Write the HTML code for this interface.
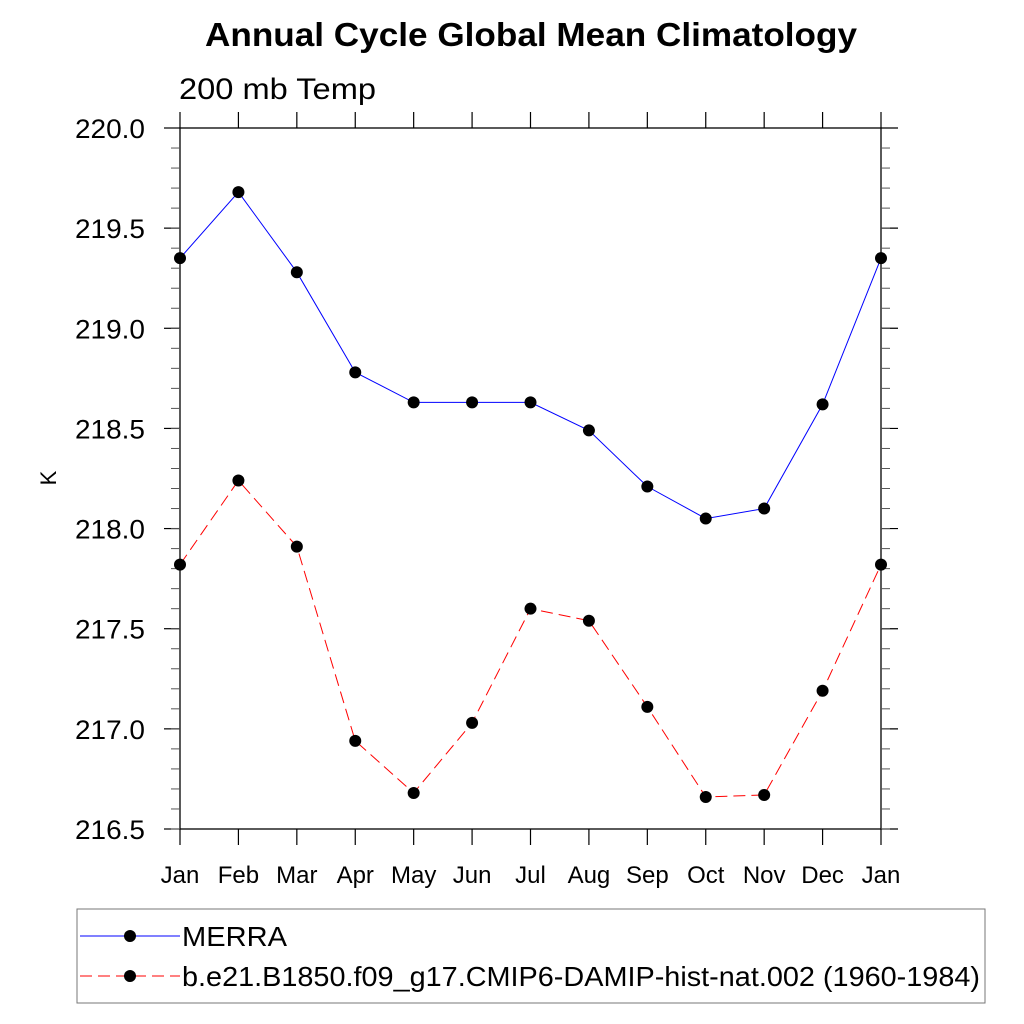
<!DOCTYPE html>
<html><head><meta charset="utf-8"><style>
body{margin:0;background:#fff;}
svg{display:block;font-family:"Liberation Sans",sans-serif;}
</style></head><body>
<svg id="chart" width="1024" height="1024" xmlns="http://www.w3.org/2000/svg">
<text x="205" y="46" font-size="33" font-weight="bold" textLength="652" lengthAdjust="spacingAndGlyphs">Annual Cycle Global Mean Climatology</text>
<text x="179" y="99" font-size="30" textLength="197" lengthAdjust="spacingAndGlyphs">200 mb Temp</text>
<text x="56" y="478" font-size="22" text-anchor="middle" transform="rotate(-90 56 478)">K</text>
<g id="axes"></g>
<g id="series"></g>
<rect x="77" y="909" width="908" height="94" fill="none" stroke="#777" stroke-width="1"/>
<g>
<line x1="80" y1="936" x2="180" y2="936" stroke="#00f" stroke-width="1"/>
<circle cx="130" cy="936" r="6" fill="#000"/>
<text x="182" y="946" font-size="28" textLength="105" lengthAdjust="spacingAndGlyphs">MERRA</text>
</g>
<g>
<line x1="80" y1="976" x2="180" y2="976" stroke="#f00" stroke-width="1" stroke-dasharray="12,6"/>
<circle cx="130" cy="976" r="6" fill="#000"/>
<text x="182" y="986" font-size="28" textLength="798" lengthAdjust="spacingAndGlyphs">b.e21.B1850.f09_g17.CMIP6-DAMIP-hist-nat.002 (1960-1984)</text>
</g>
</svg>
<script>
const months=["Jan","Feb","Mar","Apr","May","Jun","Jul","Aug","Sep","Oct","Nov","Dec","Jan"];
const merra=[219.35,219.68,219.28,218.78,218.63,218.63,218.63,218.49,218.21,218.05,218.10,218.62,219.35];
const model=[217.82,218.24,217.91,216.94,216.68,217.03,217.60,217.54,217.11,216.66,216.67,217.19,217.82];
const yTicks=["216.5","217.0","217.5","218.0","218.5","219.0","219.5","220.0"];
const L=180,R=881,T=128,B=829,ymin=216.5,ymax=220;
const NS="http://www.w3.org/2000/svg";
const xs=i=>L+(R-L)*i/(months.length-1);
const ys=v=>B-(v-ymin)/(ymax-ymin)*(B-T);
const ax=document.getElementById('axes');
function el(t,a,p){const e=document.createElementNS(NS,t);for(const k in a)e.setAttribute(k,a[k]);p.appendChild(e);return e;}
const fr=el('rect',{x:L,y:T,width:R-L,height:B-T,fill:'none',stroke:'#000','stroke-width':1.3},ax);


yTicks.forEach(t=>{const y=ys(+t);
 el('line',{x1:L-16,y1:y,x2:L,y2:y,stroke:'#000','stroke-width':1.2},ax);
 el('line',{x1:R,y1:y,x2:R+17,y2:y,stroke:'#000','stroke-width':1.2},ax);
 const tx=el('text',{x:145,y:y+10,'text-anchor':'end','font-size':27,textLength:70,lengthAdjust:'spacingAndGlyphs'},ax);tx.textContent=t;
 
 
});
for(let v=ymin;v<ymax-0.01;v+=0.1){const y=ys(v);
 el('line',{x1:L-9,y1:y,x2:L,y2:y,stroke:'#555','stroke-width':1},ax);
 el('line',{x1:R,y1:y,x2:R+9,y2:y,stroke:'#555','stroke-width':1},ax);}
months.forEach((m,i)=>{const x=xs(i);
 el('line',{x1:x,y1:T-16,x2:x,y2:T,stroke:'#000','stroke-width':1.2},ax);
 el('line',{x1:x,y1:B,x2:x,y2:B+16,stroke:'#000','stroke-width':1.2},ax);
 const tx=el('text',{x:x,y:883,'text-anchor':'middle','font-size':24},ax);tx.textContent=m;
 
 
});
const sg=document.getElementById('series');
function series(d,color,dash,name){
 const p=el('polyline',{points:d.map((v,i)=>xs(i)+','+ys(v)).join(' '),fill:'none',stroke:color,'stroke-width':1,'stroke-dasharray':dash},sg);
 
 
 d.forEach((v,i)=>{const c=el('circle',{cx:xs(i),cy:ys(v),r:6,fill:'#000'},sg);
  
  });
}
series(merra,'#00f','none','merra');
series(model,'#f00','12,6','model');
</script>
</body></html>
